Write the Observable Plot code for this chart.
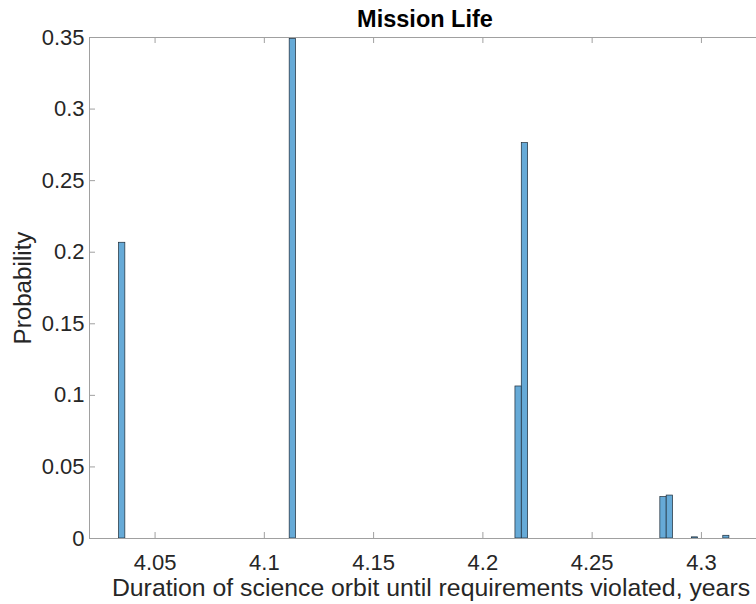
<!DOCTYPE html>
<html>
<head>
<meta charset="utf-8">
<script src="https://cdn.jsdelivr.net/npm/d3@7"></script>
<script src="https://cdn.jsdelivr.net/npm/@observablehq/plot@0.6"></script>
<style>
  html, body { margin: 0; padding: 0; background: #fff; }
  svg { display: block; }
</style>
</head>
<body>
<div id="chart"></div>
<script>
// Histogram bins (left/right edges, years) and probabilities
const binLeft  = [4.0335, 4.1116, 4.2149, 4.2178, 4.2812, 4.2841, 4.2956, 4.3100];
const binRight = [4.0364, 4.1145, 4.2178, 4.2207, 4.2841, 4.2870, 4.2985, 4.3128];
const probability = [0.2066, 0.349, 0.1062, 0.2762, 0.0289, 0.0300, 0.0008, 0.0019];

const xTicks = [4.05, 4.1, 4.15, 4.2, 4.25, 4.3];
const xTickLabels = ["4.05", "4.1", "4.15", "4.2", "4.25", "4.3"];
const yTicks = [0, 0.05, 0.1, 0.15, 0.2, 0.25, 0.3, 0.35];
const yTickLabels = ["0", "0.05", "0.1", "0.15", "0.2", "0.25", "0.3", "0.35"];

const xDomain = [4.02, 4.3252];
const yDomain = [0, 0.35];

const titleText = "Mission Life";
const xLabelText = "Duration of science orbit until requirements violated, years";
const yLabelText = "Probability";

const bins = binLeft.map((x1, i) => ({x1, x2: binRight[i], p: probability[i]}));

const W = 756, H = 604;
const mL = 89, mR = 0, mT = 37, mB = 66;
const plotW = W - mL - mR, plotH = H - mT - mB;
const tickLen = 6;
const axisColor = "#a0a0a0";
const textColor = "#262626";
const font = "'Liberation Sans', Arial, Helvetica, sans-serif";

const chart = Plot.plot({
  width: W,
  height: H,
  marginLeft: mL,
  marginRight: mR,
  marginTop: mT,
  marginBottom: mB,
  style: {fontFamily: font, color: textColor, background: "#fff"},
  x: {domain: xDomain, axis: null},
  y: {domain: yDomain, axis: null},
  marks: [
    // bars
    Plot.rectY(bins, {x1: "x1", x2: "x2", y: "p", fill: "#66AAD7", stroke: "#1c2a36", strokeWidth: 0.7}),
    // box lines
    Plot.ruleY([yDomain[0]], {stroke: axisColor, strokeWidth: 1}),
    Plot.ruleY([yDomain[1]], {stroke: axisColor, strokeWidth: 1}),
    Plot.ruleX([xDomain[0]], {stroke: axisColor, strokeWidth: 1}),
    // inward ticks
    Plot.ruleX(xTicks, {stroke: axisColor, insetTop: plotH - tickLen}),
    Plot.ruleX(xTicks, {stroke: axisColor, insetBottom: plotH - tickLen}),
    Plot.ruleY(yTicks, {stroke: axisColor, insetRight: plotW - tickLen}),
    // tick labels
    Plot.axisX(xTicks, {
      anchor: "bottom", tickSize: 0, tickPadding: 16, fontSize: 22,
      tickFormat: (d) => xTickLabels[xTicks.indexOf(d)], label: null
    }),
    Plot.axisY(yTicks, {
      anchor: "left", tickSize: 0, tickPadding: 5, fontSize: 22,
      tickFormat: (d) => yTickLabels[yTicks.indexOf(d)], label: null
    }),
    // title and axis labels
    Plot.text([titleText], {frameAnchor: "top", lineAnchor: "middle", textAnchor: "middle", dy: -18, dx: 2, fontSize: 23.5, fontWeight: "bold", fill: "#000"}),
    Plot.text([xLabelText], {frameAnchor: "bottom", lineAnchor: "middle", textAnchor: "middle", dy: 50, dx: 8, fontSize: 24.8, fill: textColor}),
    Plot.text([yLabelText], {frameAnchor: "left", lineAnchor: "middle", textAnchor: "middle", dx: -66, rotate: -90, fontSize: 24.2, fill: textColor})
  ]
});

document.getElementById("chart").appendChild(chart);
</script>
</body>
</html>
